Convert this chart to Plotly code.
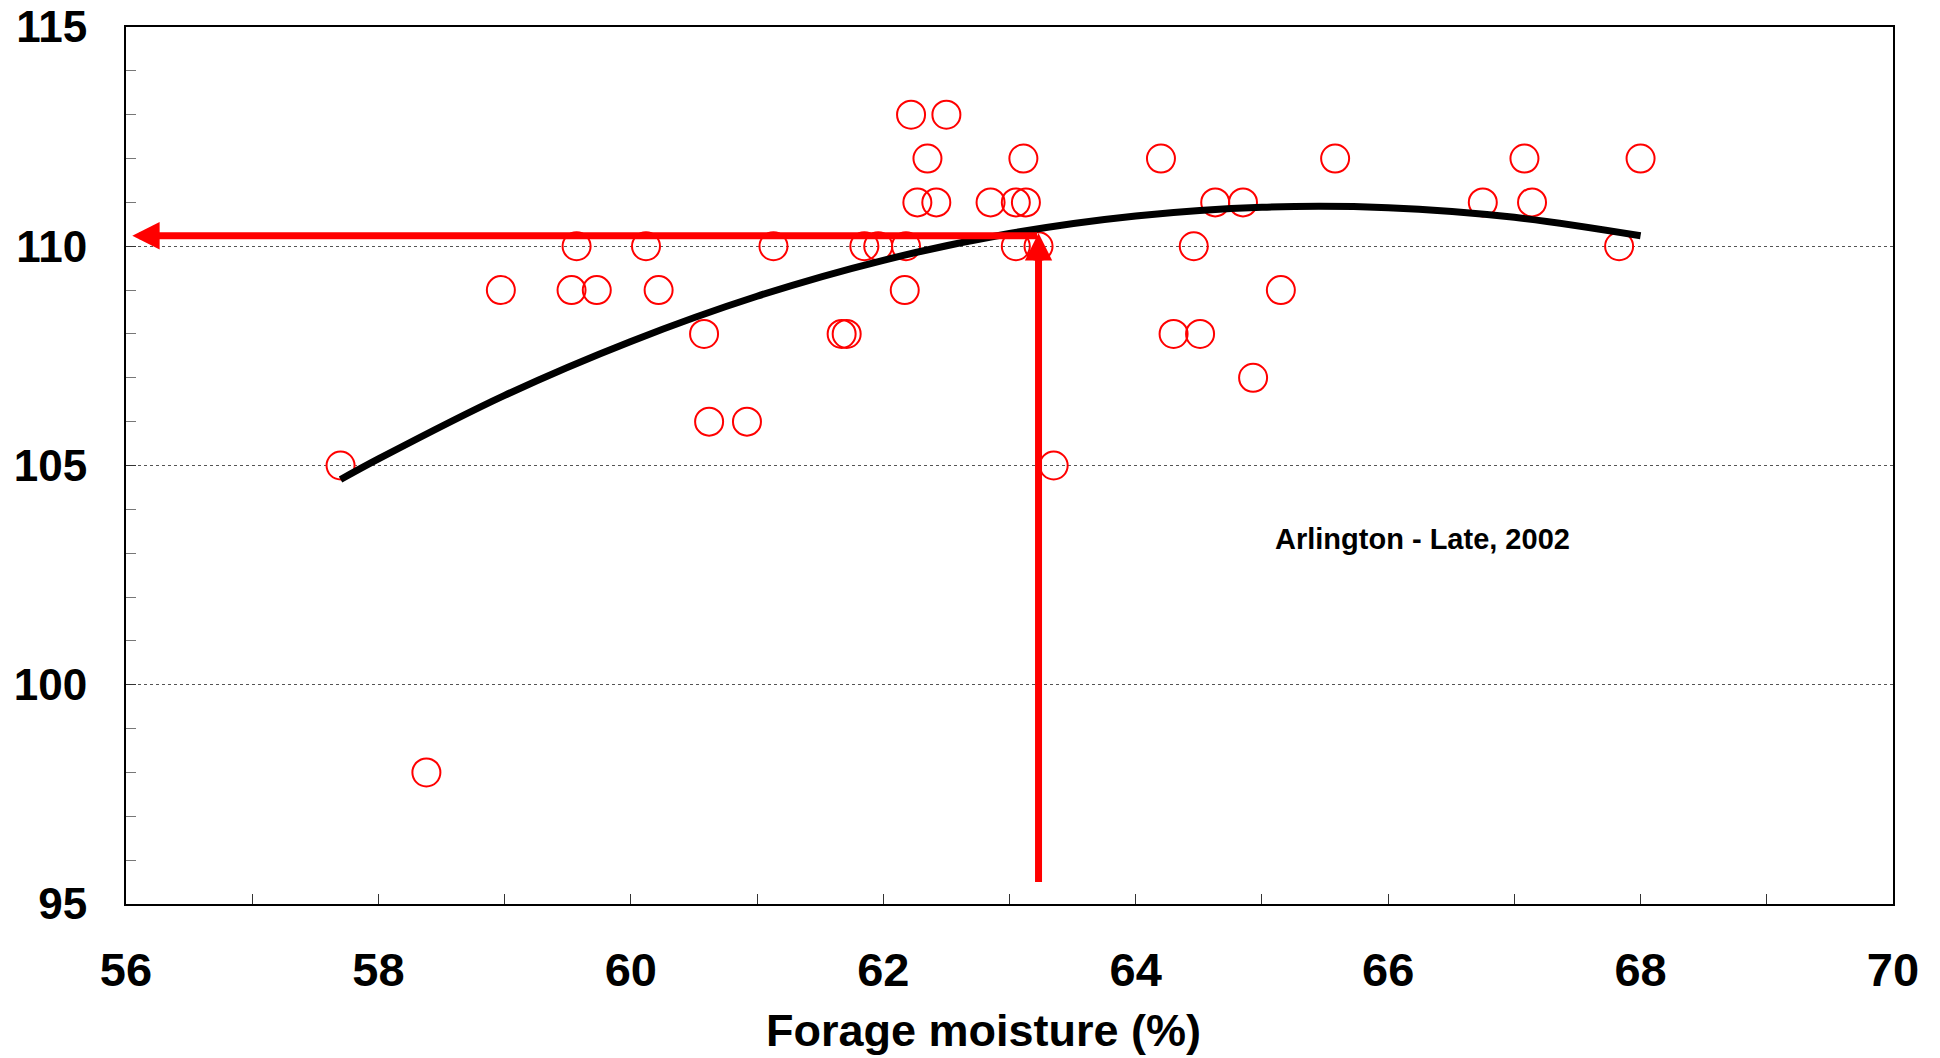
import plotly.graph_objects as go

# Scatter data: forage moisture (%) vs relative value
moisture = [62.22, 62.50,
            62.35, 63.11, 64.20, 65.58, 67.08, 68.00,
            62.27, 62.42, 62.85, 63.05, 63.13, 64.63, 64.85, 66.75, 67.14,
            59.57, 60.12, 61.13, 61.85, 61.96, 62.18, 63.05, 63.23, 64.46, 67.83,
            58.97, 59.53, 59.73, 60.22, 62.17, 65.15,
            60.58, 61.67, 61.71, 64.30, 64.51,
            64.93,
            60.62, 60.92,
            57.70, 63.35,
            58.38]
value = [113, 113,
         112, 112, 112, 112, 112, 112,
         111, 111, 111, 111, 111, 111, 111, 111, 111,
         110, 110, 110, 110, 110, 110, 110, 110, 110, 110,
         109, 109, 109, 109, 109, 109,
         108, 108, 108, 108, 108,
         107,
         106, 106,
         105, 105,
         98]

# Fitted curve
curve_x = [57.7, 58, 59, 60, 61, 62, 63, 64, 65, 66, 67, 68]
curve_y = [104.68, 105.15, 106.60, 107.83, 108.86, 109.68, 110.29, 110.69, 110.89, 110.88, 110.66, 110.24]

# Optimum marker arrows
opt_x = 63.23
opt_y = 110.24
arrow_left_x = 56.05
arrow_bottom_y = 95.47

x_ticks = [56, 58, 60, 62, 64, 66, 68, 70]
y_ticks = [95, 100, 105, 110, 115]

FONT = "Liberation Sans, Arial, sans-serif"

fig = go.Figure()
fig.add_trace(go.Scatter(
    x=moisture, y=value, mode="markers",
    marker=dict(symbol="circle-open", size=28, color="#ff0000", line=dict(width=2, color="#ff0000")),
    showlegend=False, hoverinfo="x+y"))
fig.add_trace(go.Scatter(
    x=curve_x, y=curve_y, mode="lines", line=dict(color="black", width=7, shape="spline"),
    showlegend=False))

# horizontal arrow (pointing left)
fig.add_annotation(x=arrow_left_x, y=opt_y, ax=opt_x, ay=opt_y, xref="x", yref="y",
                   axref="x", ayref="y", text="", showarrow=True, arrowhead=2,
                   arrowsize=0.78, arrowwidth=7, arrowcolor="#ff0000")
# vertical arrow (pointing up)
fig.add_annotation(x=opt_x, y=opt_y + 0.06, ax=opt_x, ay=arrow_bottom_y, xref="x", yref="y",
                   axref="x", ayref="y", text="", showarrow=True, arrowhead=2,
                   arrowsize=0.78, arrowwidth=7, arrowcolor="#ff0000")

fig.add_annotation(x=66.27, y=103.32, xref="x", yref="y", text="Arlington - Late, 2002",
                   showarrow=False, font=dict(family=FONT, size=29, color="black", weight="bold"))

# x-axis title (slightly left of centre, as in the original)
fig.add_annotation(x=0.4853, y=-0.1444, xref="paper", yref="paper", text="Forage moisture (%)",
                   showarrow=False, xanchor="center", yanchor="middle",
                   font=dict(family=FONT, size=45, color="black", weight="bold"))

fig.update_layout(
    width=1940, height=1058,
    margin=dict(l=126, r=47, t=27, b=154, autoexpand=False),
    paper_bgcolor="white", plot_bgcolor="white",
    font=dict(family=FONT, color="black"),
    xaxis=dict(range=[56, 70], tickvals=x_ticks, showgrid=False, zeroline=False,
               automargin=False,
               showline=True, linecolor="black", linewidth=2, mirror=True,
               ticks="inside", ticklen=10, tickcolor="#333", tickwidth=1,
               minor=dict(dtick=1, ticks="inside", ticklen=10, tickcolor="#333", tickwidth=1),
               tickfont=dict(family=FONT, size=47, weight="bold"),
               ticklabelstandoff=24, ticklabeloverflow="allow"),
    yaxis=dict(range=[95, 115], tickvals=y_ticks, showgrid=True, gridcolor="#555",
               gridwidth=1, griddash="dot", zeroline=False, automargin=False,
               showline=True, linecolor="black", linewidth=2, mirror=True,
               ticks="inside", ticklen=10, tickcolor="#333", tickwidth=1,
               minor=dict(dtick=1, ticks="inside", ticklen=10, tickcolor="#777", tickwidth=1, showgrid=False),
               tickfont=dict(family=FONT, size=44, weight="bold"),
               ticklabelstandoff=28, ticklabeloverflow="allow"),
)

fig.write_html("out.html", config={"displayModeBar": False},
               post_script="document.body.style.margin='0';document.body.style.overflow='hidden';")
